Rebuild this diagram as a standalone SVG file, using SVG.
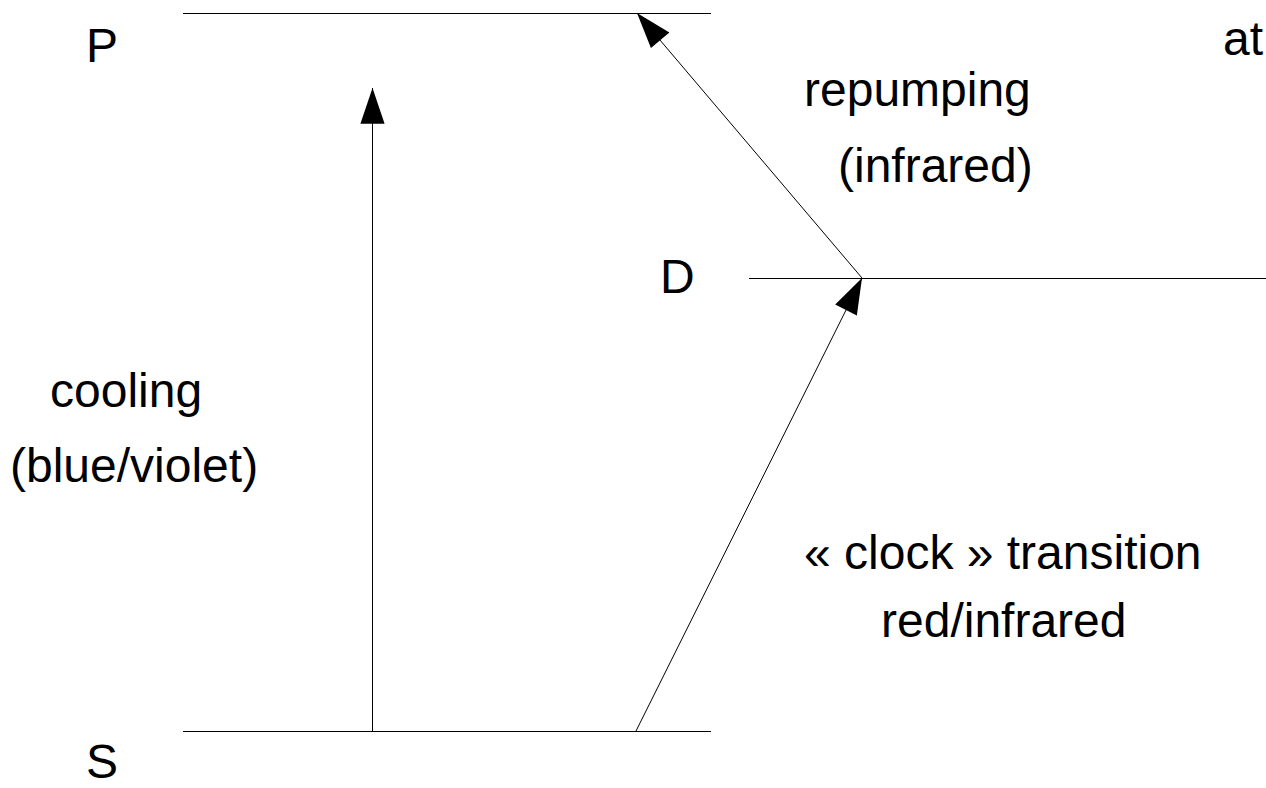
<svg xmlns="http://www.w3.org/2000/svg" width="1266" height="788" viewBox="0 0 1266 788">
  <style>
    text { font-family: "Liberation Sans", Arial, sans-serif; font-size: 48px; fill: #000; }
    .lvl { stroke: #000; stroke-width: 1; fill: none; }
    .arr { stroke: #000; stroke-width: 1; fill: none; marker-end: url(#head); }
  </style>
  <defs>
    <marker id="head" markerUnits="userSpaceOnUse" markerWidth="40" markerHeight="30" viewBox="-36 -13 38 26" refX="0" refY="0" orient="auto">
      <path d="M0,0 L-34,-11.5 L-34,11.5 Z" fill="#000"/>
    </marker>
  </defs>
  <rect width="1266" height="788" fill="#fff"/>
  <g id="level-P">
    <line class="lvl" x1="183" y1="13.5" x2="711" y2="13.5"/>
    <text x="86" y="62">P</text>
  </g>
  <g id="level-D">
    <line class="lvl" x1="749" y1="278.5" x2="1266" y2="278.5"/>
    <text x="660" y="293">D</text>
  </g>
  <g id="level-S">
    <line class="lvl" x1="183" y1="731.5" x2="711" y2="731.5"/>
    <text x="86" y="778">S</text>
  </g>
  <g id="connectors">
    <line class="arr" x1="372.5" y1="731" x2="372.5" y2="88"/>
    <line class="arr" x1="862" y1="278" x2="637" y2="13"/>
    <line class="arr" x1="636" y1="731" x2="862" y2="278"/>
  </g>
  <g id="labels">
    <text x="50" y="407">cooling</text>
    <text x="10" y="482">(blue/violet)</text>
    <text x="804" y="106">repumping</text>
    <text x="838" y="182">(infrared)</text>
    <text x="804" y="569">« clock » transition</text>
    <text x="881" y="637">red/infrared</text>
    <text x="1223" y="55">at</text>
  </g>
</svg>
